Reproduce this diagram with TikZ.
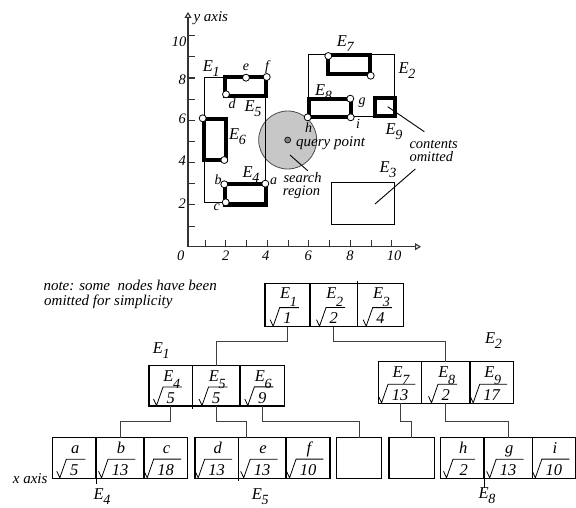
\documentclass[tikz,border=0pt]{standalone}
\usepackage{fontspec}
\usepackage{graphicx}
\setmainfont{Liberation Serif}
\usetikzlibrary{arrows.meta,calc}
\newcommand\Es[2][0.3em]{E\kern-0.3pt\raisebox{-#1}{\scalebox{0.85}{#2}}}
\tikzset{
 lbl/.style={font=\fontsize{16.5}{18}\selectfont\itshape, inner sep=0, anchor=base west},
 sml/.style={font=\fontsize{14}{16}\selectfont\itshape, inner sep=0, anchor=base west},
 txt/.style={font=\fontsize{15}{17}\selectfont\itshape, inner sep=0, anchor=base west},
 num/.style={font=\fontsize{14.5}{16}\selectfont\itshape, inner sep=0},
 axisl/.style={line width=1.1pt, draw=black!80},
 fine/.style={line width=0.9pt},
 mbr/.style={line width=4pt},
 ptc/.style={circle, draw, fill=white, inner sep=0, minimum size=7pt, line width=0.8pt},
 cellbox/.style={draw, line width=1.2pt, inner sep=0, outer sep=0},
 celllab/.style={font=\fontsize{16.5}{18}\selectfont\itshape, inner sep=0, anchor=base},
 cellval/.style={font=\fontsize{16.5}{18}\selectfont\itshape, inner sep=0, anchor=base},
 radical/.style={line width=0.8pt},
 conn/.style={line width=1pt, draw=black!75},
 opentip/.style={-{Triangle[open,length=6pt,width=7pt]}},
}
\newcommand\tcell[7]{%
 \node[cellbox, minimum width={#3-#2}, minimum height={#5-#4}] (#1) at ({(#2+#3)/2},{(#4+#5)/2}) {};
 \node[celllab] (#1l) at ($(#1.north)+(1,15.5)$) {#6};
 \node[cellval] (#1v) at ($(#1.south)+(0,-3)$) {#7};
 \draw[radical] ($(#1v.base west)+(-13,-4)$) -- ($(#1v.base west)+(-10,2.5)$) -- ($(#1v.north west)+(-3.5,-5)$) -- ($(#1v.north east)+(7,-5)$);
}
\begin{document}
\begin{tikzpicture}[x=1pt,y=-1pt]
\useasboundingbox (0,0) rectangle (576,508);
% ---------- axes
\coordinate (O) at (188,246.7);
\coordinate (ytop) at (188,12);
\coordinate (xend) at (421,246.7);
\draw[axisl, opentip] (O) -- (ytop);
\draw[axisl, opentip] (O) -- (xend);
\foreach \i in {1,...,10}{
  \draw[axisl] ({184.3+20.75*\i},246.7) -- +(0,-7);
  \draw[axisl] (188,{247.2-21.15*\i}) -- +(7,0);
}
\node[txt] (yaxl) at (193.3,21.7) {y axis};
\node[num, anchor=east] (ty10) at (186.5,42) {10};
\node[num, anchor=east] (ty8) at (186,80) {8};
\node[num, anchor=east] (ty6) at (186,119) {6};
\node[num, anchor=east] (ty4) at (186,160.8) {4};
\node[num, anchor=east] (ty2) at (186,204) {2};
\node[num] (tx0) at (180.7,256) {0};
\node[num] (tx2) at (225.7,256) {2};
\node[num] (tx4) at (265.7,256) {4};
\node[num] (tx6) at (308.3,256) {6};
\node[num] (tx8) at (350,256) {8};
\node[num] (tx10) at (394.2,256) {10};
% ---------- search region
\node[circle, draw=black!70, fill=black!22, minimum size=58pt, inner sep=0, line width=0.8pt] (sr) at (287.7,140) {};
\node[circle, draw, fill=black!50, minimum size=6pt, inner sep=0, line width=0.6pt] (qp) at (287.7,140) {};
% ---------- rectangles
\draw[fine] (204.3,77.3) rectangle (265.3,202.7);
\draw[fine] (308.3,54) rectangle (394.3,116.7);
\draw[fine] (331.7,182.3) rectangle (394.3,224.3);
\draw[mbr] (225.3,77.3) rectangle (266.3,95.7);
\draw[mbr] (203.7,118.7) rectangle (225.7,160.3);
\draw[mbr] (225.3,184) rectangle (266.3,204.7);
\draw[mbr] (327.7,54.7) rectangle (370.3,74);
\draw[mbr] (308.7,98.7) rectangle (351.3,117.3);
\draw[mbr] (375.3,97.7) rectangle (395.3,116.3);
% ---------- points
\node[ptc] (pe) at (246,77.7) {};
\node[ptc] (pf) at (266.7,77) {};
\node[ptc] (pd) at (226,94.3) {};
\node[ptc] (p6a) at (202.7,118.3) {};
\node[ptc] (p6b) at (224.3,160) {};
\node[ptc] (pb) at (224.3,184.3) {};
\node[ptc] (pc) at (225.7,202.3) {};
\node[ptc] (pa) at (265.3,183.7) {};
\node[ptc] (p7a) at (328.3,56) {};
\node[ptc] (p7b) at (370.7,75.7) {};
\node[ptc] (pg) at (350.3,98.7) {};
\node[ptc] (pi) at (350.7,117.3) {};
\node[ptc] (ph) at (307.7,117.3) {};
% ---------- plot labels
\node[lbl] (LE1) at (202.7,71.7) {\Es{1}};
\node[lbl] (LE5) at (244.5,111.7) {\Es{5}};
\node[lbl] (LE6) at (229,140) {\Es{6}};
\node[lbl] (LE4) at (242.5,178) {\Es{4}};
\node[lbl] (LE7) at (336.7,46.7) {\Es{7}};
\node[lbl] (LE2) at (398.3,73.3) {\Es{2}};
\node[lbl] (LE8) at (315,96) {\Es{8}};
\node[lbl] (LE9) at (385.3,135) {\Es{9}};
\node[lbl] (LE3) at (379.3,172.7) {\Es{3}};
\node[sml] (le) at (242.7,71) {e};
\node[sml] (lf) at (265,71) {f};
\node[sml] (ld) at (228.3,108.3) {d};
\node[sml] (lb) at (214.3,185) {b};
\node[sml] (la) at (270,185) {a};
\node[sml] (lc) at (213.3,210.7) {c};
\node[sml] (lg) at (358.3,105) {g};
\node[sml] (li) at (356,128.3) {i};
\node[sml] (lh) at (305,132.7) {h};
\node[txt] (qpl) at (296,146.7) {query point};
\node[txt, font=\fontsize{14.5}{16}\selectfont\itshape] (srl1) at (283.3,182.3) {search};
\node[txt, font=\fontsize{14.5}{16}\selectfont\itshape] (srl2) at (282.7,196) {region};
\node[txt, font=\fontsize{14.5}{16}\selectfont\itshape] (co1) at (409.3,148.7) {contents};
\node[txt, font=\fontsize{14.5}{16}\selectfont\itshape] (co2) at (409.3,161.7) {omitted};
\coordinate (s1) at (290,155);
\coordinate (s2) at (307.7,170.7);
\draw[fine] (s1) -- (s2);
\coordinate (c1) at (387.7,106.7);
\coordinate (c2) at (424.3,131.7);
\draw[fine] (c1) -- (c2);
\coordinate (c3) at (375,204);
\coordinate (c4) at (415.3,169);
\draw[fine] (c3) -- (c4);
% ---------- note
\node[txt] (note1) at (43.3,290) {note: some\ \ nodes have been};
\node[txt] (note2) at (44,305) {omitted for simplicity};
% ---------- tree
\tcell{r1}{265}{310}{283.3}{326.7}{\Es[0.45em]{1}}{1}
\tcell{r2}{310}{357.7}{283.3}{326.7}{\Es[0.45em]{2}}{2}
\tcell{r3}{357.7}{403.3}{283.3}{326.7}{\Es[0.45em]{3}}{4}
\tcell{n1a}{149}{192.7}{365.7}{406}{\Es[0.45em]{4}}{5}
\tcell{n1b}{192.7}{240}{365.7}{406}{\Es[0.45em]{5}}{5}
\tcell{n1c}{240}{284.3}{365.7}{406}{\Es[0.45em]{6}}{9}
\tcell{n2a}{378.3}{421.7}{361.7}{403.3}{\Es[0.45em]{7}}{13}
\tcell{n2b}{421.7}{470}{361.7}{403.3}{\Es[0.45em]{8}}{2}
\tcell{n2c}{470}{513.3}{361.7}{403.3}{\Es[0.45em]{9}}{17}
\tcell{l1a}{52.3}{96}{437.5}{478.3}{a}{5}
\tcell{l1b}{96}{144}{437.5}{478.3}{b}{13}
\tcell{l1c}{144}{187.3}{437.5}{478.3}{c}{18}
\tcell{l2a}{195}{238.3}{437.5}{478.3}{d}{13}
\tcell{l2b}{238.3}{286}{437.5}{478.3}{e}{13}
\tcell{l2c}{286}{330}{437.5}{478.3}{f}{10}
\node[cellbox, minimum width=45pt, minimum height=40.8pt] (x1) at (359.2,457.9) {};
\node[cellbox, minimum width=45.3pt, minimum height=40.8pt] (x2) at (411.65,457.9) {};
\tcell{l3a}{440.7}{484}{437.5}{478.3}{h}{\kern3pt 2}
\tcell{l3b}{484}{532.3}{437.5}{478.3}{g}{13}
\tcell{l3c}{532.3}{575.3}{437.5}{478.3}{i}{10}
% divider extensions
\draw[fine] (r2.north east) -- +(0,-2);
\draw[fine] (n1a.south east) -- +(0,3);
\draw[fine] (l1a.south east) -- +(0,6);
\draw[fine] (l2a.south east) -- +(0,3);
\draw[fine] (l3a.south east) -- +(0,10);
% connectors
\draw[conn] (r1.south) -- ++(0,15) -| (n1b.north);
\draw[conn] (r2.south) -- ++(0,15) -| (n2b.north);
\draw[conn] (n1a.south) -- ++(0,15.7) -| (l1b.north);
\draw[conn] (n1b.south) -- ++(0,15.7) -| ($(l2b.north)+(-15.3,0)$);
\draw[conn] (n1c.south) -- ++(0,15.7) -| (x1.north);
\draw[conn] (n2a.south) -- ++(0,18.4) -| (x2.north);
\draw[conn] (n2b.south) -- ++(0,18.4) -| (l3b.north);
% tree labels
\node[lbl] (TE1) at (152.7,353.3) {\Es{1}};
\node[lbl] (TE2) at (485,343.3) {\Es{2}};
\node[lbl] (TE4) at (93.3,499) {\Es[0.33em]{4}};
\node[lbl] (TE5) at (251.7,499) {\Es[0.33em]{5}};
\node[lbl] (TE8) at (478.3,498) {\Es[0.35em]{8}};
\node[txt] (xaxl) at (12.7,483.3) {x axis};
\end{tikzpicture}
\end{document}
